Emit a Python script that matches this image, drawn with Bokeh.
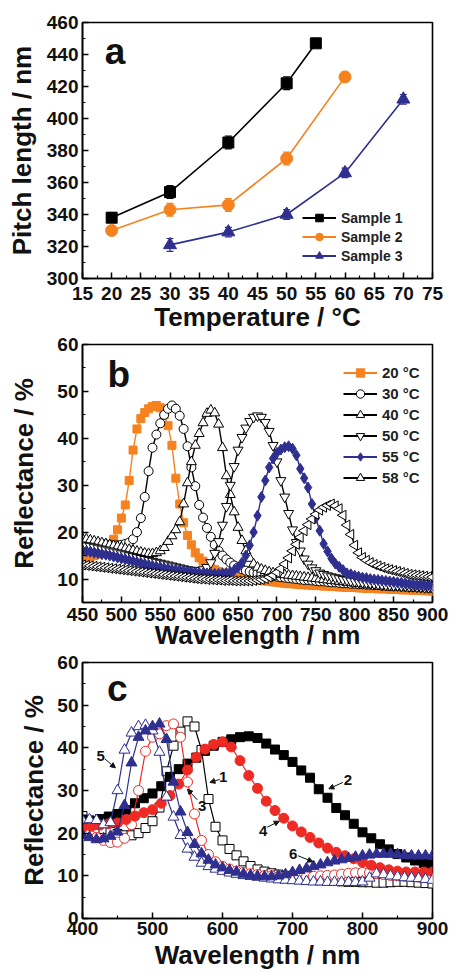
from math import pi
from bokeh.plotting import figure
from bokeh.models import (ColumnDataSource, Whisker, TeeHead, Legend, LegendItem, Label,
                          LabelSet, Arrow, NormalHead, Range1d, FixedTicker)
from bokeh.layouts import column
from bokeh.embed import file_html
from bokeh.resources import INLINE
from bokeh.core.properties import value

FONT = "Liberation Sans"
ORANGE = "#F5821F"
NAVY = "#2E2F8F"
RED = "#EE2A24"

# ---------------- panel a data ----------------
temp1 = [20, 30, 40, 50, 55]
pitch1 = [338, 354, 385, 422, 447]
err1 = [3, 4, 4, 4, 2]
temp2 = [20, 30, 40, 50, 60]
pitch2 = [330, 343, 346, 375, 426]
err2 = [3, 4, 4, 4, 3]
temp3 = [30, 40, 50, 60, 70]
pitch3 = [321, 329, 340, 366, 412]
err3 = [4, 3, 3, 3, 3]
a_labels = ["Sample 1", "Sample 2", "Sample 3"]

# ---------------- panel b data ----------------
wl_b = list(range(450, 905, 5))
r20 = [14.5, 14.6, 14.8, 15.0, 15.3, 15.7, 16.3, 17.3,
       18.5, 20.5, 23.0, 25.8, 31.0, 37.5, 42.0, 44.2, 45.5, 46.3,
       46.8, 47.0, 46.5, 45.0, 42.7, 38.5, 31.5, 26.0, 22.0, 19.3,
       17.3, 15.6, 14.5, 13.8, 13.0, 12.4, 12.0, 11.6, 11.3, 11.0,
       10.8, 10.6, 10.4, 10.2, 10.1, 10.0, 9.9, 9.8, 9.7, 9.6,
       9.5, 9.4, 9.3, 9.2, 9.1, 9.0, 9.0, 8.9, 8.8, 8.8,
       8.7, 8.7, 8.6, 8.6, 8.5, 8.5, 8.4, 8.4, 8.3, 8.3,
       8.2, 8.2, 8.2, 8.1, 8.1, 8.0, 8.0, 8.0, 7.9, 7.9,
       7.9, 7.8, 7.8, 7.8, 7.7, 7.7, 7.7, 7.6, 7.6, 7.6,
       7.5, 7.5, 7.4]
r30 = [18.0, 17.9, 17.8, 17.7, 17.6, 17.5, 17.4, 17.3, 17.2, 17.2,
       17.3, 17.5, 17.8, 18.5, 20.0, 23.0, 27.5, 33.0, 38.0, 40.8,
       43.2, 45.0, 46.3, 47.0, 46.3, 44.8, 42.0, 38.3, 33.8, 29.8,
       25.8, 23.1, 20.9, 19.0, 17.3, 16.0, 15.0, 14.2, 13.5, 12.9,
       12.5, 12.1, 11.8, 11.6, 11.4, 11.2, 11.0, 10.8, 10.7, 10.6,
       10.5, 10.4, 10.3, 10.2, 10.1, 10.0, 9.9, 9.8, 9.8, 9.7,
       9.6, 9.5, 9.5, 9.4, 9.3, 9.3, 9.2, 9.1, 9.1, 9.0,
       9.0, 8.9, 8.9, 8.8, 8.8, 8.7, 8.7, 8.6, 8.6, 8.5,
       8.5, 8.5, 8.4, 8.4, 8.3, 8.3, 8.3, 8.2, 8.2, 8.1,
       8.1]
r40 = [18.6, 18.5, 18.3, 18.1, 17.9, 17.7, 17.5, 17.3, 17.1, 16.9,
       16.7, 16.5, 16.3, 16.1, 15.9, 15.7, 15.5, 15.4, 15.4, 15.6,
       16.0, 16.7, 18.0, 19.2, 20.5, 22.2, 26.0, 30.5, 35.0, 38.5,
       41.0, 43.3, 45.3, 46.0, 45.4, 43.0, 38.0, 32.0, 28.0, 24.3,
       21.0, 18.2, 16.0, 14.4, 13.2, 12.5, 12.1, 11.8, 11.5, 11.3,
       11.1, 11.0, 10.9, 10.8, 10.7, 10.6, 10.5, 10.4, 10.3, 10.2,
       10.1, 10.0, 9.9, 9.8, 9.7, 9.6, 9.5, 9.4, 9.3, 9.2,
       9.1, 9.0, 9.0, 8.9, 8.9, 8.8, 8.8, 8.7, 8.7, 8.6,
       8.6, 8.5, 8.5, 8.4, 8.4, 8.3, 8.3, 8.2, 8.2, 8.1,
       8.1]
r50 = [17.2, 17.1, 17.0, 16.8, 16.6, 16.4, 16.2, 16.0, 15.8, 15.6,
       15.4, 15.2, 15.0, 14.8, 14.6, 14.4, 14.2, 14.0, 13.8, 13.6,
       13.4, 13.2, 13.0, 12.8, 12.6, 12.4, 12.2, 12.0, 11.9, 11.8,
       11.8, 12.0, 12.5, 13.5, 15.5, 18.0, 21.5, 25.5, 30.0, 34.0,
       37.5, 40.2, 42.2, 43.6, 44.5, 44.8, 44.5, 43.4, 41.5, 38.5,
       35.0, 31.0, 27.5, 24.0, 20.5, 17.8, 16.0, 14.3, 13.2, 12.4,
       11.8, 11.3, 11.0, 10.7, 10.5, 10.3, 10.1, 9.9, 9.8, 9.6,
       9.5, 9.4, 9.3, 9.2, 9.1, 9.0, 8.9, 8.8, 8.7, 8.7,
       8.6, 8.6, 8.5, 8.5, 8.4, 8.4, 8.3, 8.3, 8.2, 8.2,
       8.1]
r55 = [16.0, 15.9, 15.8, 15.6, 15.5, 15.3, 15.2, 15.0, 14.8, 14.6,
       14.4, 14.2, 14.0, 13.8, 13.6, 13.4, 13.2, 13.0, 12.8, 12.6,
       12.5, 12.3, 12.2, 12.0, 11.9, 11.8, 11.7, 11.6, 11.5, 11.4,
       11.3, 11.2, 11.2, 11.1, 11.1, 11.1, 11.2, 11.3, 11.5, 11.9,
       12.5, 13.5, 15.0, 17.2, 20.0, 23.5, 27.5, 31.0, 33.8, 35.7,
       36.9, 37.6, 38.1, 38.3, 37.8, 36.4, 33.5, 31.5, 29.5, 26.0,
       23.0, 20.3, 17.5, 15.9, 14.4, 13.3, 12.6, 11.9, 11.2, 11.0,
       10.7, 10.5, 10.3, 10.2, 10.0, 9.9, 9.8, 9.7, 9.6, 9.5,
       9.4, 9.3, 9.2, 9.1, 9.0, 8.9, 8.8, 8.8, 8.7, 8.7,
       8.6]
r58 = [13.0, 12.9, 12.8, 12.7, 12.6, 12.5, 12.4, 12.3, 12.2, 12.1,
       12.0, 11.9, 11.8, 11.7, 11.6, 11.5, 11.4, 11.3, 11.2, 11.1,
       11.0, 10.9, 10.8, 10.7, 10.6, 10.5, 10.4, 10.3, 10.2, 10.1,
       10.0, 10.0, 9.9, 9.9, 9.8, 9.8, 9.7, 9.7, 9.7, 9.6,
       9.6, 9.6, 9.6, 9.6, 9.7, 9.8, 9.9, 10.1, 10.4, 10.8,
       11.4, 12.2, 13.2, 14.5, 16.0, 17.4, 18.9, 20.3, 21.6, 22.8,
       23.8, 24.7, 25.3, 25.7, 26.0, 25.6, 25.0, 23.6, 21.5, 19.5,
       17.2, 15.6, 14.6, 14.0, 13.5, 13.1, 12.8, 12.5, 12.2, 12.0,
       11.8, 11.6, 11.4, 11.2, 11.0, 10.9, 10.8, 10.7, 10.6, 10.5,
       10.4]
b_labels = ["20 \u00b0C", "30 \u00b0C", "40 \u00b0C", "50 \u00b0C", "55 \u00b0C", "58 \u00b0C"]

# ---------------- panel c data ----------------
wl_c = list(range(400, 910, 10))
wl_c2 = [400 + 12.5 * i for i in range(41)]
c1 = [24.0, 23.0, 22.0, 21.0, 20.3, 19.8, 19.5, 19.5, 20.0, 21.2,
      22.8, 26.0, 34.5, 40.5, 43.8, 46.2, 45.0, 39.5, 28.0, 21.5,
      18.3, 16.3, 14.8, 13.4, 12.3, 11.5, 11.0, 10.6, 10.3, 10.0,
      9.8, 9.6, 9.4, 9.2, 9.0, 8.9, 8.8, 8.7, 8.6, 8.6,
      8.5, 8.5, 8.4, 8.4, 8.5, 8.6, 8.6, 8.5, 8.4, 8.3,
      8.2]
c2 = [23.2, 22.8, 23.3, 23.9, 24.5, 25.4, 27.0, 28.2, 29.3, 31.0,
      33.2, 35.0, 36.3, 37.7, 39.3, 40.5, 41.4, 42.0, 42.5, 42.7,
      42.3, 41.0, 39.6, 38.3, 36.7, 34.7, 33.0, 30.3, 28.3, 25.9,
      24.2, 22.2, 20.2, 18.8, 17.4, 16.2, 15.1, 14.3, 13.6, 13.0,
      12.7]
c3 = [20.5, 19.8, 19.0, 18.3, 17.8, 17.9, 18.8, 22.0, 30.0, 39.2,
      42.5, 43.3, 45.2, 45.6, 42.5, 32.0, 24.5, 18.3, 15.0, 13.3,
      12.2, 11.6, 11.1, 10.8, 10.5, 10.3, 10.1, 10.0, 9.9, 9.8,
      9.8, 9.8, 9.8, 9.9, 10.0, 10.1, 10.2, 10.4, 10.6, 10.7,
      10.8, 10.7, 10.5, 10.3, 10.1, 10.0, 9.9, 9.8, 9.7, 9.6,
      9.5]
c4 = [21.3, 21.6, 21.9, 22.2, 22.4, 23.2, 24.0, 24.8, 25.5, 27.0,
      28.8, 31.5, 34.8, 37.8, 39.7, 40.8, 41.4, 40.2, 37.0, 33.5,
      30.5, 27.5, 25.3, 23.5, 21.7, 20.3, 19.0, 17.7, 16.5, 15.5,
      14.7, 14.0, 13.2, 12.5, 11.9, 11.4, 11.1, 10.9, 10.9, 10.9,
      10.9]
c5 = [23.0, 23.2, 23.0, 22.0, 22.5, 30.0, 39.5, 43.5, 45.0, 45.3,
      44.0, 39.0, 28.5, 23.8, 19.5, 16.3, 14.4, 13.0, 12.2, 11.6,
      11.1, 10.7, 10.4, 10.1, 9.9, 9.7, 9.5, 9.3, 9.1, 9.0,
      8.9, 8.8, 8.7, 8.6, 8.6, 8.5, 8.5, 8.5, 8.5, 8.5,
      8.6, 9.5, 10.5, 10.3, 10.0, 9.8, 9.6, 9.5, 9.4, 9.2,
      9.0]
c6 = [19.5, 19.0, 18.5, 18.7, 19.3, 20.3, 26.5, 36.5, 42.5, 44.0,
      45.0, 45.6, 42.0, 32.0, 25.0, 20.2, 17.4, 15.2, 13.7, 12.6,
      11.9, 11.3, 10.9, 10.4, 10.1, 9.9, 9.8, 9.8, 10.0, 10.3,
      10.8, 11.3, 11.7, 12.2, 12.6, 13.1, 13.5, 13.8, 14.1, 14.4,
      14.7, 14.9, 15.1, 15.1, 15.1, 15.0, 14.8, 14.7, 14.7, 14.7,
      14.7]
ann_text = ["1", "2", "3", "4", "5", "6"]
ann_x = [601, 779, 571, 658, 426, 701]
ann_y = [33.2, 32.5, 26.4, 20.6, 38.0, 15.1]
arr_x0 = [596, 772, 564, 664, 432, 708]
arr_y0 = [32.6, 31.9, 27.8, 21.4, 37.4, 14.7]
arr_x1 = [582, 752, 550, 681, 447, 729]
arr_y1 = [31.9, 30.4, 30.3, 22.8, 35.3, 13.3]

W = 451
NAN = float("nan")


def proxy_src():
    # legend-only renderer: no visible point
    return ColumnDataSource(dict(x=[NAN], y=[NAN]))


def style(p, xt, xm, yt, ym, xlabel, ylabel, ystand, xstand, xlstand):
    p.xgrid.visible = False
    p.ygrid.visible = False
    p.outline_line_color = "black"
    p.outline_line_width = 1.6
    p.outline_line_alpha = 1.0
    p.background_fill_color = "white"
    p.border_fill_color = "white"
    p.xaxis.ticker = FixedTicker(ticks=xt, minor_ticks=xm)
    p.yaxis.ticker = FixedTicker(ticks=yt, minor_ticks=ym)
    for ax in (p.xaxis[0], p.yaxis[0]):
        ax.axis_line_width = 1.6
        ax.major_tick_in = 6
        ax.major_tick_out = 0
        ax.minor_tick_in = 3
        ax.minor_tick_out = 0
        ax.major_tick_line_width = 1.5
        ax.minor_tick_line_width = 1.2
        ax.major_label_text_font = FONT
        ax.major_label_text_font_style = "bold"
        ax.major_label_text_font_size = "19px"
        ax.major_label_text_color = "#111111"
        ax.axis_label_text_font = FONT
        ax.axis_label_text_font_style = "bold"
        ax.axis_label_text_font_size = "26px"
        ax.axis_label_text_color = "#111111"
    p.xaxis.axis_label = xlabel
    p.yaxis.axis_label = ylabel
    p.yaxis.major_label_standoff = 4
    p.yaxis.axis_label_standoff = ystand
    p.xaxis.major_label_standoff = xstand
    p.xaxis.axis_label_standoff = xlstand


def panel_label(p, txt, x, y):
    p.add_layout(Label(x=x, y=y, text=txt, text_font=FONT, text_font_style="bold",
                       text_font_size="37px", text_baseline="alphabetic", text_color="#111111"))


def make_legend(items, loc, gh, fs):
    return Legend(items=items, location=loc, background_fill_alpha=0, border_line_alpha=0,
                  padding=0, margin=0, spacing=0, label_standoff=5, glyph_width=34,
                  glyph_height=gh, label_height=gh, label_text_font=FONT,
                  label_text_font_style="bold", label_text_font_size=fs,
                  label_text_color="#222222")


# ================= panel a =================
pa = figure(width=W, height=334, output_backend="svg", toolbar_location=None,
            x_range=Range1d(15, 75), y_range=Range1d(300, 460),
            min_border_left=82, min_border_right=19, min_border_top=22, min_border_bottom=56)
style(pa, list(range(15, 80, 5)), [17.5 + 5 * i for i in range(12)],
      list(range(300, 480, 20)), list(range(310, 460, 20)),
      "Temperature / \u00b0C", "Pitch length / nm", 7, 8, -1)

rend_a = []
for xs, ys, es, col, mk, sz, lsz in [(temp1, pitch1, err1, "black", "square", 11, 7),
                                     (temp2, pitch2, err2, ORANGE, "circle", 12, 8),
                                     (temp3, pitch3, err3, NAVY, "triangle", 13, 9)]:
    src = ColumnDataSource(dict(x=xs, y=ys, up=[a + b for a, b in zip(ys, es)],
                                lo=[a - b for a, b in zip(ys, es)]))
    pa.add_layout(Whisker(source=src, base="x", upper="up", lower="lo", line_color=col,
                          line_width=1.2,
                          upper_head=TeeHead(size=7, line_color=col, line_width=1.2),
                          lower_head=TeeHead(size=7, line_color=col, line_width=1.2)))
    pa.line("x", "y", source=src, line_color=col, line_width=1.6)
    pa.scatter("x", "y", source=src, marker=mk, size=sz, fill_color=col, line_color=col)
    lp = pa.line("x", "y", source=proxy_src(), line_color=col, line_width=1.8)
    sp = pa.scatter("x", "y", source=proxy_src(), marker=mk, size=lsz,
                    fill_color=col, line_color=col)
    rend_a.append([lp, sp])

pa.add_layout(make_legend([LegendItem(label=lab, renderers=r) for lab, r in zip(a_labels, rend_a)],
                          (220, 13), 19, "14px"))
panel_label(pa, "a", 18.8, 442)

# ================= panel b =================
pb = figure(width=W, height=318, output_backend="svg", toolbar_location=None,
            x_range=Range1d(450, 900), y_range=Range1d(5, 60),
            min_border_left=82, min_border_right=19, min_border_top=10, min_border_bottom=50)
style(pb, list(range(450, 950, 50)), list(range(475, 900, 50)),
      list(range(10, 70, 10)), list(range(15, 60, 10)),
      "Wavelength / nm", "Reflectance / %", 15, 5, -4)

series_b = [
    (r20, ORANGE, ORANGE, ORANGE, "square", 8, 0.0, 7),
    (r30, "black", "white", "black", "circle", 9, 0.0, 7),
    (r40, "black", "white", "black", "triangle", 10, 0.0, 8),
    (r50, "black", "white", "black", "inverted_triangle", 10, 0.0, 8),
    (r55, NAVY, NAVY, NAVY, "diamond", 11, 0.0, 10),
    (r58, "black", "white", "black", "triangle", 10, pi / 2, 8),
]
rend_b = []
for ys, lc, fc, mc, mk, sz, ang, lsz in series_b:
    src = ColumnDataSource(dict(x=wl_b, y=ys))
    pb.line("x", "y", source=src, line_color=lc, line_width=1.4)
    pb.scatter("x", "y", source=src, marker=mk, size=sz, fill_color=fc, line_color=mc,
               line_width=1.0, angle=ang)
    lp = pb.line("x", "y", source=proxy_src(), line_color=lc, line_width=1.8)
    sp = pb.scatter("x", "y", source=proxy_src(), marker=mk, size=lsz,
                    fill_color=fc, line_color=mc, line_width=1.0, angle=ang)
    rend_b.append([lp, sp])
pb.add_layout(make_legend([LegendItem(label=lab, renderers=r) for lab, r in zip(b_labels, rend_b)],
                          (261, 114), 21, "15px"))
panel_label(pb, "b", 482, 53.5)

# ================= panel c =================
pc = figure(width=W, height=320, output_backend="svg", toolbar_location=None,
            x_range=Range1d(400, 900), y_range=Range1d(0, 60),
            min_border_left=82, min_border_right=19, min_border_top=10, min_border_bottom=54)
style(pc, list(range(400, 1000, 100)), list(range(450, 900, 100)),
      list(range(0, 70, 10)), list(range(5, 60, 10)),
      "Wavelength / nm", "Reflectance / %", 5, 3, 2)

series_c = [
    (wl_c, c1, "black", "white", "square", 9),
    (wl_c2, c2, "black", "black", "square", 9),
    (wl_c, c3, RED, "white", "circle", 10),
    (wl_c2, c4, RED, RED, "circle", 10),
    (wl_c, c5, NAVY, "white", "triangle", 11),
    (wl_c, c6, NAVY, NAVY, "triangle", 11),
]
for xs, ys, lc, fc, mk, sz in series_c:
    src = ColumnDataSource(dict(x=xs, y=ys))
    pc.line("x", "y", source=src, line_color=lc, line_width=1.2)
    pc.scatter("x", "y", source=src, marker=mk, size=sz, fill_color=fc, line_color=lc,
               line_width=1.0)

ann_src = ColumnDataSource(dict(x=ann_x, y=ann_y, t=ann_text))
pc.add_layout(LabelSet(x="x", y="y", text="t", source=ann_src, text_font=value(FONT),
                       text_font_style="bold", text_font_size="15px", text_align="center",
                       text_baseline="middle", text_color="#111111"))
arr_src = ColumnDataSource(dict(x0=arr_x0, y0=arr_y0, x1=arr_x1, y1=arr_y1))
pc.add_layout(Arrow(source=arr_src, x_start="x0", y_start="y0", x_end="x1", y_end="y1",
                    line_width=1.0, line_color="#111111",
                    end=NormalHead(size=5, fill_color="#111111", line_color="#111111")))
panel_label(pc, "c", 435, 54)

layout = column(pa, pb, pc, spacing=0)
open("out.html", "w").write(file_html(layout, INLINE))
